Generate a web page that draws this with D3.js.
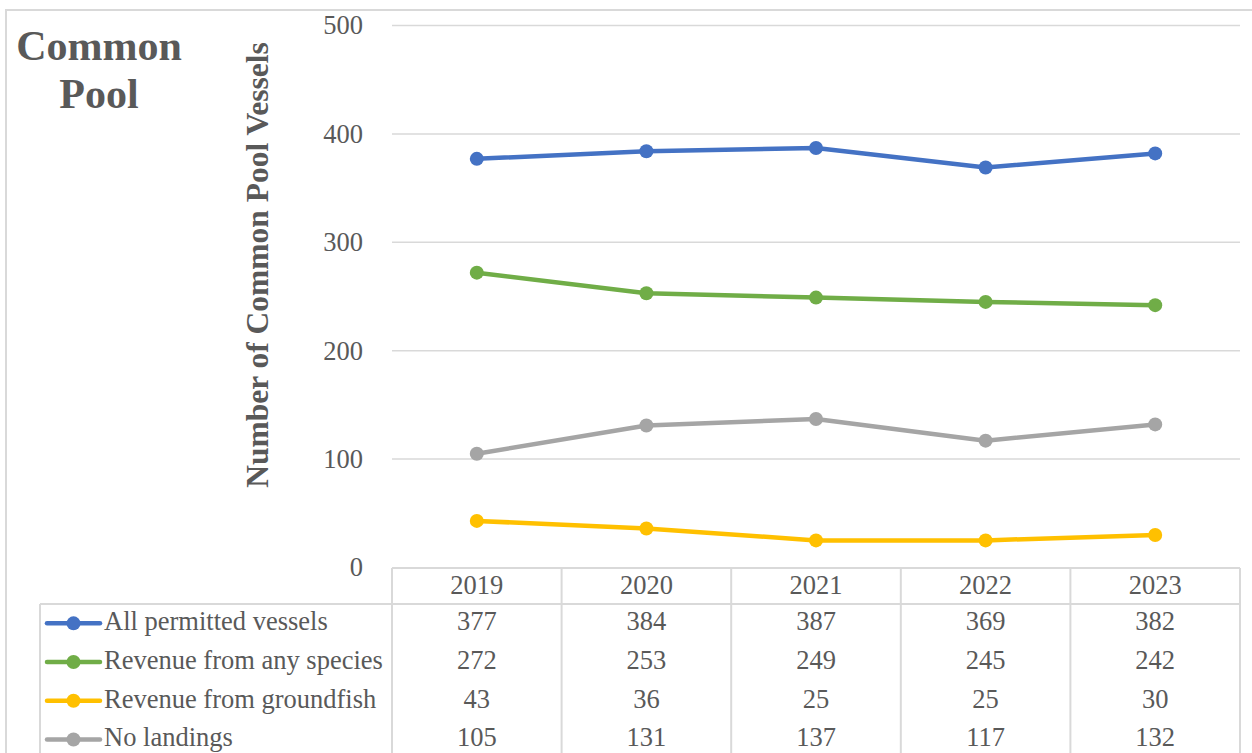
<!DOCTYPE html>
<html>
<head>
<meta charset="utf-8">
<script src="https://cdn.jsdelivr.net/npm/d3@7"></script>
<style>
  html, body { margin: 0; padding: 0; background: #fff; }
  svg { display: block; font-family: "Liberation Serif", "Times New Roman", serif; }
</style>
</head>
<body>
<svg id="chart" width="1252" height="753"></svg>
<script>
const years = ["2019", "2020", "2021", "2022", "2023"];
const seriesNames = ["All permitted vessels", "Revenue from any species", "Revenue from groundfish", "No landings"];
const allPermitted = [377, 384, 387, 369, 382];
const revenueAny = [272, 253, 249, 245, 242];
const revenueGroundfish = [43, 36, 25, 25, 30];
const noLandings = [105, 131, 137, 117, 132];
const yTicks = [0, 100, 200, 300, 400, 500];
const colors = ["#4472C4", "#70AD47", "#FFC000", "#A5A5A5"];

const series = [allPermitted, revenueAny, revenueGroundfish, noLandings].map((vals, i) => ({
  name: seriesNames[i], color: colors[i], values: vals
}));

const svg = d3.select("#chart");
const textColor = "#595959";
const gridColor = "#d9d9d9";

const plotLeft = 392, plotRight = 1240, plotTop = 25.5, plotBottom = 567.5;
const x = d3.scaleBand().domain(years).range([plotLeft, plotRight]);
const y = d3.scaleLinear().domain([0, 500]).range([plotBottom, plotTop]);

// outer border
svg.append("rect").attr("x", 6).attr("y", 10).attr("width", 1252).attr("height", 800)
  .attr("fill", "none").attr("stroke", gridColor).attr("stroke-width", 2);

// gridlines
svg.append("g").selectAll("line").data(yTicks.filter(d => d > 0)).join("line")
  .attr("x1", plotLeft).attr("x2", plotRight)
  .attr("y1", d => y(d)).attr("y2", d => y(d))
  .attr("stroke", gridColor).attr("stroke-width", 1.5);

// y axis labels
const yAxis = d3.axisLeft(y).tickValues(yTicks).tickSize(0).tickPadding(0);
const yg = svg.append("g").attr("transform", `translate(363,0)`).call(yAxis);
yg.select(".domain").remove();
yg.selectAll("text").attr("fill", textColor).style("font-size", "26.5px")
  .style("font-family", "'Liberation Serif', 'Times New Roman', serif");

// y axis title
svg.append("text")
  .attr("transform", `translate(268,265) rotate(-90)`)
  .attr("text-anchor", "middle")
  .attr("fill", textColor).attr("font-weight", "bold").style("font-size", "31.5px")
  .text("Number of Common Pool Vessels");

// chart title
const title = svg.append("text").attr("text-anchor", "middle")
  .attr("fill", textColor).attr("font-weight", "bold").style("font-size", "42px");
title.append("tspan").attr("x", 99).attr("y", 60).text("Common");
title.append("tspan").attr("x", 99).attr("y", 108).text("Pool");

// lines
const line = d3.line().x((d, i) => x(years[i]) + x.bandwidth() / 2).y(d => y(d));
const sg = svg.append("g").selectAll("g").data(series).join("g");
sg.append("path").attr("d", d => line(d.values)).attr("fill", "none")
  .attr("stroke", d => d.color).attr("stroke-width", 4.5).attr("stroke-linejoin", "round").attr("stroke-linecap", "round");
sg.selectAll("circle").data(d => d.values.map((v, i) => ({ v, i, color: d.color }))).join("circle")
  .attr("cx", d => x(years[d.i]) + x.bandwidth() / 2).attr("cy", d => y(d.v))
  .attr("r", 7).attr("fill", d => d.color);

// data table
const headerTop = 568, rowsTop = 604, rowH = 38.7, legendLeft = 40;
const tg = svg.append("g");
const border = (x1, y1, x2, y2) => tg.append("line").attr("x1", x1).attr("y1", y1).attr("x2", x2).attr("y2", y2)
  .attr("stroke", gridColor).attr("stroke-width", 2);
border(plotLeft, headerTop, plotRight, headerTop);
border(legendLeft, rowsTop, plotRight, rowsTop);
border(legendLeft, rowsTop, legendLeft, 760);
const colEdges = years.map(yr => x(yr)).concat([plotRight]);
colEdges.forEach(cx => border(cx, headerTop, cx, 760));

// header text
tg.selectAll("text.hdr").data(years).join("text").attr("class", "hdr")
  .attr("x", d => x(d) + x.bandwidth() / 2).attr("y", headerTop + 17).attr("dy", "0.35em")
  .attr("text-anchor", "middle").attr("fill", textColor).style("font-size", "26.5px").text(d => d);

// rows
series.forEach((s, r) => {
  const cy = rowsTop + rowH * (r + 0.5);
  const ty = cy - 2.5;
  tg.append("line").attr("x1", 47).attr("x2", 100).attr("y1", cy).attr("y2", cy)
    .attr("stroke", s.color).attr("stroke-width", 4.5).attr("stroke-linecap", "round");
  tg.append("circle").attr("cx", 73.5).attr("cy", cy).attr("r", 7).attr("fill", s.color);
  tg.append("text").attr("x", 104).attr("y", ty).attr("dy", "0.35em")
    .attr("fill", textColor).style("font-size", "26.5px").text(s.name);
  tg.selectAll(null).data(s.values).join("text")
    .attr("x", (d, i) => x(years[i]) + x.bandwidth() / 2).attr("y", ty).attr("dy", "0.35em")
    .attr("text-anchor", "middle").attr("fill", textColor).style("font-size", "26.5px").text(d => d);
});
</script>
</body>
</html>
